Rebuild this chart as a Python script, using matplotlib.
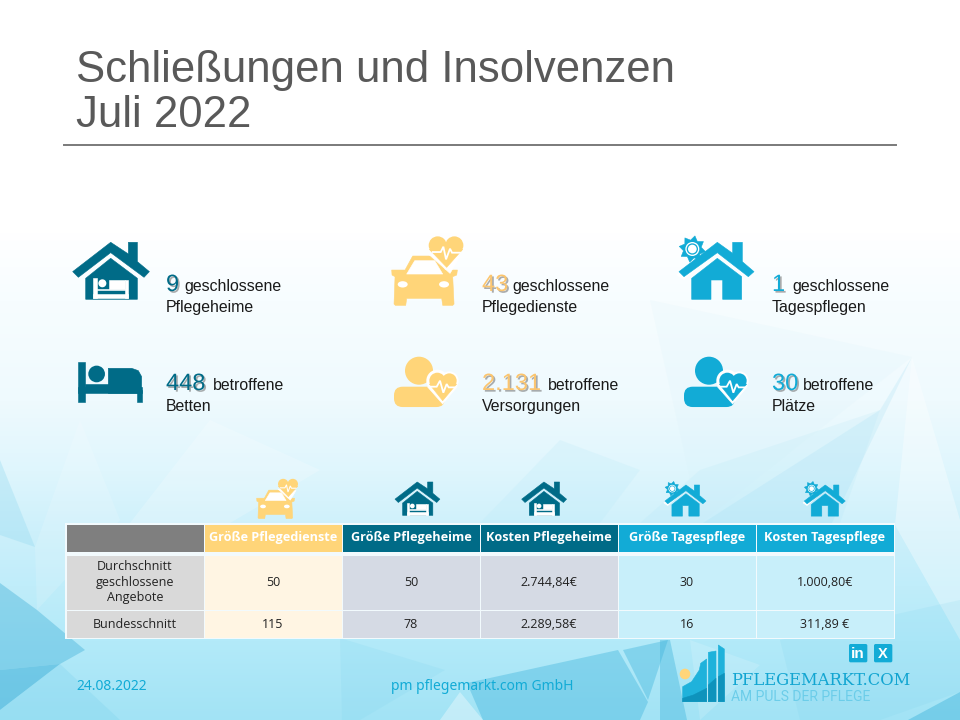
import numpy as np
import matplotlib
matplotlib.use("Agg")
import matplotlib.pyplot as plt
from matplotlib.patches import Polygon, Circle, Ellipse, FancyBboxPatch
from matplotlib.colors import to_rgb
import matplotlib.patheffects as pe

# ---- content ----
title_lines = ["Schließungen und Insolvenzen", "Juli 2022"]
kpi_numbers = ["9", "43", "1", "448", "2.131", "30"]
kpi_words = ["geschlossene", "geschlossene", "geschlossene", "betroffene", "betroffene", "betroffene"]
kpi_labels = ["Pflegeheime", "Pflegedienste", "Tagespflegen", "Betten", "Versorgungen", "Plätze"]
table_headers = ["", "Größe Pflegedienste", "Größe Pflegeheime", "Kosten Pflegeheime",
                 "Größe Tagespflege", "Kosten Tagespflege"]
row_average = ["Durchschnitt\ngeschlossene\nAngebote", "50", "50", "2.744,84€", "30", "1.000,80€"]
row_national = ["Bundesschnitt", "115", "78", "2.289,58€", "16", "311,89 €"]
footer_date = "24.08.2022"
footer_company = "pm pflegemarkt.com GmbH"
logo_name = "PFLEGEMARKT.COM"
logo_claim = "AM PULS DER PFLEGE"

# ---- style ----
TEAL, YEL, BLUE = "#006B87", "#FFD579", "#12ABD6"
GREY = "#7F7F7F"
SANS = "Liberation Sans"
TBL = "Open Sans"

fig = plt.figure(figsize=(9.6, 7.2), dpi=100)
ax = fig.add_axes([0, 0, 1, 1])
ax.set_xlim(0, 960)
ax.set_ylim(720, 0)
ax.axis("off")

# background gradient
stops_y = [0, 232, 300, 400, 470, 530, 640, 720]
stops_c = ["#FFFFFF", "#FFFFFF", "#F7FDFF", "#EFFAFE", "#DFF6FD", "#CDF0FB", "#B3EAF9", "#A2E3F5"]
ys = np.arange(720)
rgb = np.array([to_rgb(c) for c in stops_c])
grad = np.stack([np.interp(ys, stops_y, rgb[:, i]) for i in range(3)], axis=1)[:, None, :]
ax.imshow(grad, extent=(0, 960, 720, 0), aspect="auto", zorder=0)

facets = [
    ([(0, 583), (37, 610), (85, 650), (60, 664), (0, 670)], "#3FAFD8", .40),
    ([(0, 670), (60, 664), (0, 710)], "#3FAFD8", .55),
    ([(0, 710), (60, 664), (120, 720), (0, 720)], "#7FD3EE", .30),
    ([(0, 460), (35, 547), (0, 535)], "#8CD6EE", .30),
    ([(35, 547), (80, 420), (120, 520), (37, 610)], "#FFFFFF", .14),
    ([(467, 683), (618, 650), (648, 702), (640, 720), (483, 720)], "#3FB4DC", .40),
    ([(623, 650), (668, 640), (648, 700)], "#3FB4DC", .40),
    ([(460, 692), (483, 720), (440, 720)], "#FFFFFF", .35),
    ([(340, 638), (445, 670), (360, 720), (342, 720)], "#7FD3EE", .18),
    ([(660, 640), (670, 640), (687, 720), (660, 720)], "#3FB4DC", .40),
    ([(908, 720), (960, 692), (960, 720)], "#3FB4DC", .45),
    ([(690, 640), (760, 665), (700, 720)], "#FFFFFF", .15),
    ([(912, 357), (880, 410), (703, 523), (832, 523)], "#9FDDF3", .22),
    ([(912, 357), (960, 520), (960, 640), (895, 525)], "#FFFFFF", .35),
    ([(650, 300), (912, 357), (700, 523)], "#D5F0FA", .15),
    ([(700, 470), (640, 523), (840, 523), (880, 410)], "#A8E2F5", .15),
    ([(210, 420), (320, 470), (230, 523), (130, 523)], "#FFFFFF", .20),
    ([(480, 523), (560, 440), (640, 470), (600, 523)], "#B9E9F8", .22),
    ([(780, 640), (960, 600), (960, 692), (880, 720), (800, 720)], "#6CCBE9", .12),
]
for pts, col, al in facets:
    ax.add_patch(Polygon(pts, closed=True, fc=col, ec="none", alpha=al, zorder=1))

# title
ax.text(76, 82, title_lines[0], fontsize=31.5, color="#595959", family=SANS, va="baseline")
ax.text(76, 127, title_lines[1], fontsize=31.5, color="#595959", family=SANS, va="baseline")
ax.plot([64, 896], [145, 145], color="#7A7A7A", lw=1.4, zorder=2)


class Icon:
    """Map design coordinates (dx, dy origin) to slide pixels (x0, y0) at scale s."""
    def __init__(self, x0, y0, dx, dy, s):
        self.x0, self.y0, self.dx, self.dy, self.s = x0, y0, dx, dy, s

    def m(self, pts):
        return [(self.x0 + (x - self.dx) * self.s, self.y0 + (y - self.dy) * self.s) for x, y in pts]

    def poly(self, pts, c, z=3):
        ax.add_patch(Polygon(self.m(pts), closed=True, fc=c, ec=c, lw=.4, joinstyle="round", zorder=z))

    def rect(self, x1, y1, x2, y2, c, z=3):
        self.poly([(x1, y1), (x2, y1), (x2, y2), (x1, y2)], c, z)

    def circ(self, x, y, r, c, z=3):
        (p, ) = self.m([(x, y)])
        ax.add_patch(Circle(p, r * self.s, fc=c, ec="none", zorder=z))

    def ell(self, x, y, w, h, c, z=3):
        (p, ) = self.m([(x, y)])
        ax.add_patch(Ellipse(p, w * self.s, h * self.s, fc=c, ec="none", zorder=z))

    def rr(self, x1, y1, x2, y2, r, c, z=3):
        (p, ) = self.m([(x1, y1)])
        w, h = (x2 - x1) * self.s, (y2 - y1) * self.s
        rs = r * self.s
        ax.add_patch(FancyBboxPatch(p, w, h, boxstyle=f"round,pad=0,rounding_size={rs}", fc=c, ec="none", zorder=z))

    def line(self, pts, c, lw, z=5):
        a = np.array(self.m(pts))
        ax.plot(a[:, 0], a[:, 1], color=c, lw=lw, solid_joinstyle="miter", zorder=z)


GAP = "#FFFFFF"


def house_bed(x, y, s):
    i = Icon(x, y, 38, 37, s)
    i.poly([(38, 125), (152, 37), (205, 72), (205, 37), (232, 37), (232, 95), (268, 125), (252, 142),
            (152, 68), (55, 142)], TEAL)
    i.poly([(152, 85), (232, 145), (232, 208), (77, 208), (77, 145)], TEAL)
    i.rect(100, 143, 110, 205, GAP, 4)
    i.rect(100, 193, 205, 205, GAP, 4)
    i.rect(195, 150, 205, 205, GAP, 4)
    i.rect(148, 150, 195, 178, GAP, 4)
    i.rect(110, 178, 195, 181, GAP, 4)
    i.circ(127, 160, 12, GAP, 4)


def car(x, y, s):
    i = Icon(x, y, 995, 20, s)
    i.poly([(1058, 78), (1132, 78), (1155, 120), (1192, 120), (1190, 135), (1178, 140), (1182, 222),
            (1178, 226), (1148, 226), (1145, 205), (1040, 205), (1037, 226), (1006, 226), (1002, 222),
            (1005, 140), (996, 135), (995, 120), (1035, 120)], YEL)
    i.poly([(1064, 92), (1124, 92), (1148, 132), (1040, 132)], GAP, 4)
    i.ell(1028, 163, 30, 19, GAP, 4)
    i.ell(1152, 163, 30, 19, GAP, 4)
    i.poly([(1105, 72), (1170, 130), (1200, 80)], GAP, 4)
    i.circ(1133, 46, 27, YEL, 5)
    i.circ(1183, 46, 27, YEL, 5)
    i.poly([(1108, 58), (1208, 58), (1160, 112)], YEL, 5)
    i.line([(1118, 66), (1142, 66), (1150, 50), (1158, 88), (1170, 56), (1176, 68), (1200, 68)], GAP, 1.3 * s * 3, 6)


def sun_house(x, y, s):
    i = Icon(x, y, 597, 15, s)
    ang = np.radians(np.arange(0, 360, 22.5) + 11.25)
    rad = np.where(np.arange(16) % 2 == 0, 40, 27)
    i.poly([(637 + r * np.cos(a), 57 + r * np.sin(a)) for r, a in zip(rad, ang)], BLUE)
    i.circ(637, 57, 21, GAP, 4)
    i.circ(637, 57, 17, BLUE, 5)
    i.circ(637, 57, 13, GAP, 6)
    i.poly([(590, 135), (712, 45), (712, 60), (612, 150)], GAP, 7)
    i.poly([(597, 125), (712, 37), (758, 70), (758, 37), (787, 37), (787, 95), (822, 125), (805, 140),
            (712, 68), (612, 140)], BLUE, 8)
    i.poly([(712, 85), (785, 140), (785, 208), (728, 208), (728, 150), (693, 150), (693, 208), (635, 208),
            (635, 145)], BLUE, 8)


def bed(x, y, s):
    i = Icon(x, y, 55, 397, s)
    i.rect(55, 397, 75, 515, TEAL)
    i.rect(230, 480, 245, 515, TEAL)
    i.rect(55, 470, 245, 490, TEAL)
    i.poly([(145, 415), (215, 415), (235, 422), (245, 440), (245, 490), (145, 490)], TEAL)
    i.rect(75, 462, 150, 475, TEAL)
    i.circ(110, 432, 25, TEAL)


def person(x, y, s, c):
    i = Icon(x, y, 1002, 380, s)
    i.circ(1077, 422, 42, c)
    i.rr(1002, 470, 1155, 531, 26, c)
    i.circ(1132, 452, 33, GAP, 4)
    i.circ(1168, 452, 28, GAP, 4)
    i.poly([(1102, 470), (1192, 470), (1148, 522)], GAP, 4)
    i.circ(1132, 452, 24, c, 5)
    i.circ(1168, 452, 22, c, 5)
    i.poly([(1108, 462), (1190, 462), (1148, 512)], c, 5)
    i.line([(1112, 470), (1130, 470), (1140, 452), (1150, 488), (1160, 462), (1166, 472), (1186, 472)],
           GAP, 1.3 * s * 3, 6)


house_bed(72.7, 242.3, 1 / 3)
car(391.7, 236.7, 1 / 3)
sun_house(679, 235, 1 / 3)
bed(78.3, 362.3, 1 / 3)
person(394, 356.7, 1 / 3, YEL)
person(684, 356.7, 1 / 3, BLUE)
car(256.7, 479, .192)
house_bed(395, 482, .195)
house_bed(521.7, 482, .195)
sun_house(665, 481, .182)
sun_house(804.3, 481, .182)

# KPI texts
kpi_x = [166, 482, 772, 166, 482, 772]
word_x = [184, 512, 792, 213, 548, 803]
num_y = [291, 291, 291, 390, 390, 390]
lab_y = [312, 312, 312, 411, 411, 411]
num_c = [TEAL, "#FBC56F", BLUE, TEAL, "#FBC56F", BLUE]
shadow = [pe.withSimplePatchShadow(offset=(1.2, -1.2), shadow_rgbFace="#777777", alpha=.6)]
for k in range(6):
    ax.text(kpi_x[k], num_y[k], kpi_numbers[k], fontsize=17, color=num_c[k], family=SANS,
            va="baseline", zorder=5, path_effects=shadow)
    ax.text(word_x[k], num_y[k], kpi_words[k], fontsize=11.4, color="#1A1A1A", family=SANS, va="baseline", zorder=5)
    ax.text(kpi_x[k], lab_y[k], kpi_labels[k], fontsize=11.4, color="#1A1A1A", family=SANS, va="baseline", zorder=5)

# table
col_x = [66, 204, 342, 480, 618, 756, 894]
row_y = [(524, 552), (555, 610), (610, 638)]
head_c = [GREY, YEL, TEAL, TEAL, BLUE, BLUE]
body_c = ["#D9D9D9", "#FFF5E3", "#D5DAE4", "#D5DAE4", "#C8EFFA", "#C8EFFA"]
ax.add_patch(plt.Rectangle((65, 523), 830, 116, fc="#F2FAFD", ec="none", zorder=6))
for c in range(6):
    w = col_x[c + 1] - col_x[c] - 1
    x = col_x[c] + .5
    y0, y1 = row_y[0]
    ax.add_patch(plt.Rectangle((x, y0 + .5), w, y1 - y0 - 1, fc=head_c[c], ec="none", zorder=7))
    if table_headers[c]:
        ax.text((col_x[c] + col_x[c + 1]) / 2, (y0 + y1) / 2, table_headers[c], fontsize=9.1, weight="bold",
                color="#FFFFFF", family=TBL, ha="center", va="center", zorder=8)
    for (y0, y1), row in zip(row_y[1:], (row_average, row_national)):
        ax.add_patch(plt.Rectangle((x, y0 + .5), w, y1 - y0 - 1, fc=body_c[c], ec="none", zorder=7))
        ax.text((col_x[c] + col_x[c + 1]) / 2, (y0 + y1) / 2, row[c], fontsize=9, color="#222222", family=TBL,
                ha="center", va="center", linespacing=1.25, zorder=8)

# footer
ax.text(76, 687, footer_date, fontsize=10, color=BLUE, family="Noto Sans", va="center", zorder=5)
ax.text(391, 687, footer_company, fontsize=10, color=BLUE, family="Noto Sans", va="center", zorder=5)

# logo (design coordinates from a 3x view with origin 660, 635)
lg = Icon(660, 635, 0, 0, 1 / 3)
lg.poly([(68, 155), (95, 140), (118, 105), (122, 85), (140, 72), (140, 200), (68, 200)], "#1FB2DB")
lg.poly([(68, 190), (100, 180), (140, 160), (140, 200), (68, 200)], "#0E93BC")
lg.poly([(145, 52), (168, 48), (168, 200), (145, 200)], "#1FB2DB")
lg.poly([(145, 150), (168, 130), (168, 200), (145, 200)], "#0E93BC")
lg.poly([(175, 30), (193, 42), (193, 200), (175, 200)], "#1FB2DB")
lg.poly([(175, 125), (193, 115), (193, 200), (175, 200)], "#0E93BC")
lg.circ(75, 117, 16, "#FFD579", 4)
ax.text(731, 685, logo_name, fontsize=11.8, color="#12A5D1", family="DejaVu Serif", va="baseline", zorder=5)
ax.text(731, 701, logo_claim, fontsize=10, color="#6CCDE9", family="Roboto", va="baseline", zorder=5)
lg.rr(567, 27, 622, 82, 5, BLUE)
lg.rr(642, 27, 697, 82, 5, BLUE)
ax.text(858.2, 654, "in", fontsize=11, weight="bold", color="white", family="Liberation Sans",
        ha="center", va="center", zorder=6)
ax.text(883.2, 654, "X", fontsize=10.5, weight="bold", color="white", family="Liberation Sans",
        ha="center", va="center", zorder=6)

fig.savefig("out.png", dpi=100)
